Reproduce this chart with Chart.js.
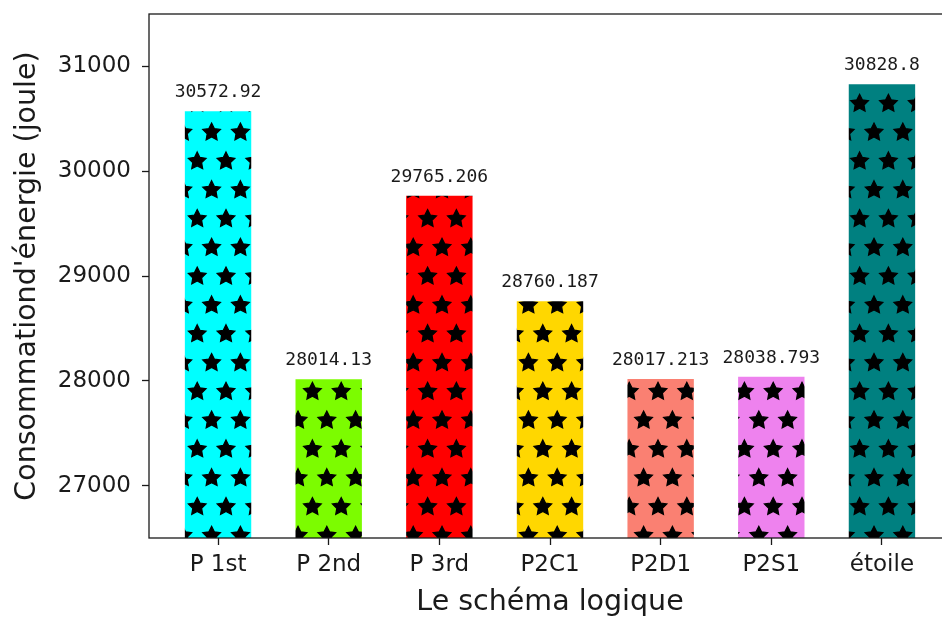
<!DOCTYPE html>
<html>
<head>
<meta charset="utf-8">
<script src="https://cdn.jsdelivr.net/npm/chart.js@4.4.1/dist/chart.umd.min.js"></script>
<style>
	html, body { margin: 0; padding: 0; overflow: hidden; background: #fff; }
	#wrap { width: 942px; height: 621px; overflow: hidden; }
</style>
</head>
<body>
<div id="wrap"><canvas id="energyChart" width="1000" height="621"></canvas></div>
<script>
// schémas et consommation mesurée
const categories = ['P 1st', 'P 2nd', 'P 3rd', 'P2C1', 'P2D1', 'P2S1', 'étoile'];
const values = [30572.92, 28014.13, 29765.206, 28760.187, 28017.213, 28038.793, 30828.8];
const barColors = ['#00ffff', '#7cfc00', '#ff0000', '#ffd700', '#fa8072', '#ee82ee', '#008080'];
const yTicks = [27000, 28000, 29000, 30000, 31000];

const ink = '#1a1a1a';

// motif d'étoiles noires (hachure '*')
function starPattern(color)
{
	const size = 288, step = 28.8, R = 9.3;
	const c = document.createElement('canvas');
	c.width = c.height = size;
	const g = c.getContext('2d');
	g.fillStyle = color;
	g.fillRect(0, 0, size, size);
	g.fillStyle = '#000';
	g.strokeStyle = '#000';
	g.lineWidth = 1.2;
	function star(cx, cy) {
		g.beginPath();
		for (let i = 0; i < 10; i++) {
			const a = -Math.PI / 2 + i * Math.PI / 5;
			const r = i % 2 ? R * 0.5 : R;
			const px = cx + r * Math.cos(a), py = cy + r * Math.sin(a);
			if (i === 0) g.moveTo(px, py); else g.lineTo(px, py);
		}
		g.closePath();
		g.fill();
		g.stroke();
	}
	for (let k = 0; k < 10; k++) {
		const y = 17.2 + k * step;
		const x0 = k % 2 ? 24.4 : 10.0;
		for (let j = 0; j < 10; j++) {
			for (const dx of [-size, 0, size]) {
				for (const dy of [-size, 0, size]) {
					star(x0 + j * step + dx, y + dy);
				}
			}
		}
	}
	return g.createPattern(c, 'repeat');
}

const valueLabels = {
	id: 'valueLabels',
	afterDatasetsDraw(chart) {
		const ctx = chart.ctx;
		const meta = chart.getDatasetMeta(0);
		ctx.save();
		ctx.font = '18px "DejaVu Sans Mono"';
		ctx.fillStyle = ink;
		ctx.textAlign = 'center';
		ctx.textBaseline = 'alphabetic';
		meta.data.forEach((bar, i) => {
			ctx.fillText(String(values[i]), bar.x, bar.y - 14);
		});
		ctx.restore();
	}
};

// cadre complet autour de la zone de tracé
const frame = {
	id: 'frame',
	afterDatasetsDraw(chart) {
		const a = chart.chartArea;
		const ctx = chart.ctx;
		ctx.save();
		ctx.strokeStyle = ink;
		ctx.lineWidth = 1.3;
		ctx.strokeRect(a.left, a.top, a.right - a.left, a.bottom - a.top);
		ctx.restore();
	}
};

function noPadding(s)
{
	s.paddingTop = s.paddingBottom = s.paddingLeft = s.paddingRight = 0;
}

const ctx = document.getElementById('energyChart').getContext('2d');
new Chart(ctx, {
	type: 'bar',
	data: {
		datasets: [{
			data: values.map((v, i) => ({ x: i, y: v })),
			backgroundColor: barColors.map(starPattern),
			borderWidth: 0,
			categoryPercentage: 1.0,
			barPercentage: 0.6
		}]
	},
	options: {
		responsive: false,
		animation: false,
		events: [],
		layout: { padding: { top: 14, right: 49, left: 0, bottom: 0 } },
		plugins: {
			legend: { display: false },
			tooltip: { enabled: false }
		},
		scales: {
			x: {
				type: 'linear',
				offset: false,
				min: -0.624,
				max: 6.624,
				afterBuildTicks: s => { s.ticks = categories.map((c, i) => ({ value: i })); },
				afterFit: s => { s.height = 83; noPadding(s); },
				ticks: {
					callback: v => categories[v],
					font: { family: 'DejaVu Sans', size: 23 },
					color: ink,
					padding: 6,
					maxRotation: 0,
					autoSkip: false
				},
				grid: { offset: false, drawOnChartArea: false, drawTicks: true, tickLength: 7, color: ink, tickWidth: 1.3 },
				border: { display: false },
				title: {
					display: true,
					text: 'Le schéma logique',
					font: { family: 'DejaVu Sans', size: 28.5 },
					color: ink,
					padding: { top: 0, bottom: 1 }
				}
			},
			y: {
				min: 26500,
				max: 31500,
				beginAtZero: false,
				afterBuildTicks: s => { s.ticks = yTicks.map(v => ({ value: v })); },
				afterFit: s => { s.width = 149; noPadding(s); },
				ticks: {
					callback: v => String(v),
					font: { family: 'DejaVu Sans', size: 23 },
					color: ink,
					padding: 11
				},
				grid: { drawOnChartArea: false, drawTicks: true, tickLength: 7, color: ink, tickWidth: 1.3 },
				border: { display: false },
				title: {
					display: true,
					text: "Consommationd'énergie (joule)",
					font: { family: 'DejaVu Sans', size: 28.5 },
					color: ink,
					padding: { top: 10, bottom: 0 }
				}
			}
		}
	},
	plugins: [valueLabels, frame]
});
</script>
</body>
</html>
